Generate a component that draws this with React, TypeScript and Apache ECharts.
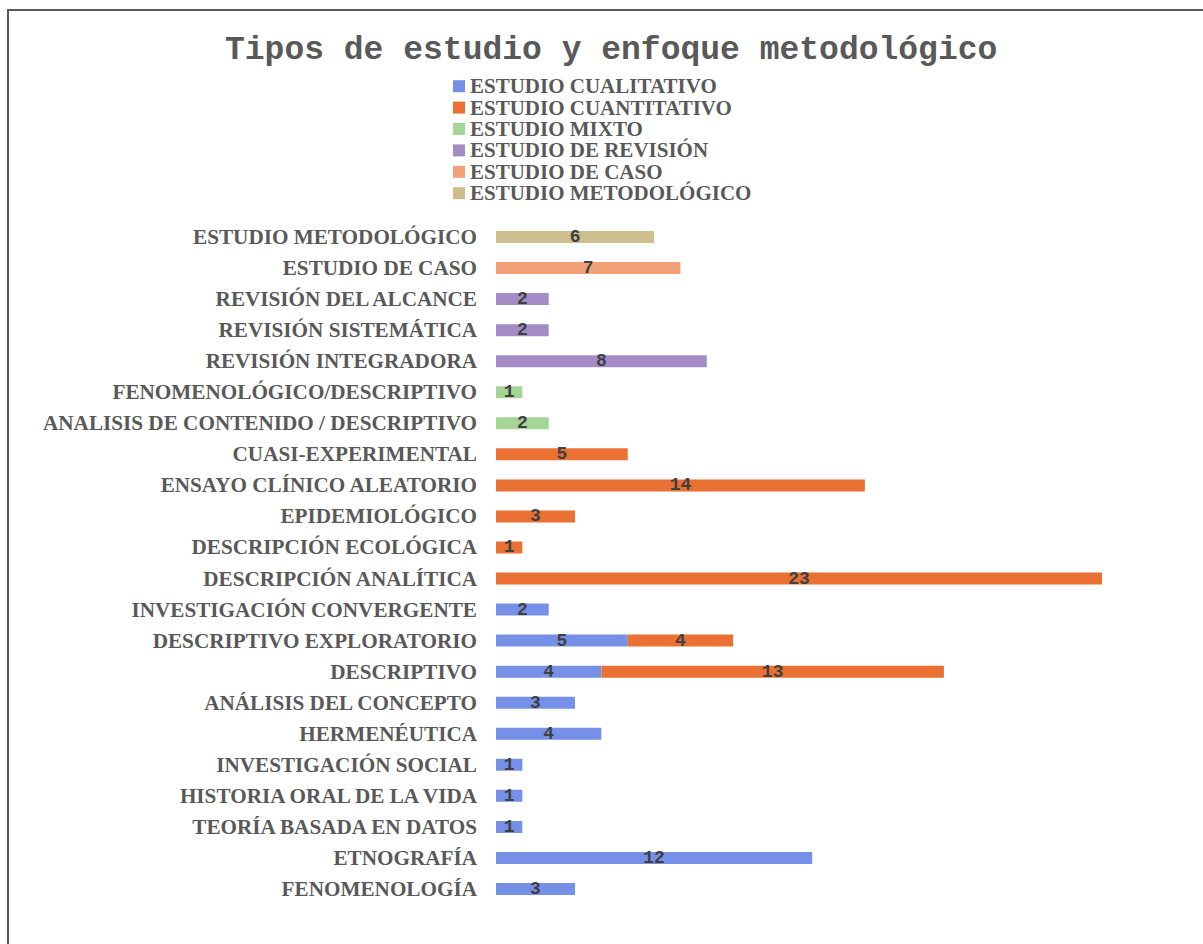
import React, { useEffect, useRef } from "react";
import * as echarts from "echarts";

const categories = [
  "FENOMENOLOGÍA",
  "ETNOGRAFÍA",
  "TEORÍA BASADA EN DATOS",
  "HISTORIA ORAL DE LA VIDA",
  "INVESTIGACIÓN SOCIAL",
  "HERMENÉUTICA",
  "ANÁLISIS DEL CONCEPTO",
  "DESCRIPTIVO",
  "DESCRIPTIVO EXPLORATORIO",
  "INVESTIGACIÓN CONVERGENTE",
  "DESCRIPCIÓN ANALÍTICA",
  "DESCRIPCIÓN ECOLÓGICA",
  "EPIDEMIOLÓGICO",
  "ENSAYO CLÍNICO ALEATORIO",
  "CUASI-EXPERIMENTAL",
  "ANALISIS DE CONTENIDO / DESCRIPTIVO",
  "FENOMENOLÓGICO/DESCRIPTIVO",
  "REVISIÓN INTEGRADORA",
  "REVISIÓN SISTEMÁTICA",
  "REVISIÓN DEL ALCANCE",
  "ESTUDIO DE CASO",
  "ESTUDIO METODOLÓGICO",
];

const N = null;
const cualitativo = [3, 12, 1, 1, 1, 4, 3, 4, 5, 2, N, N, N, N, N, N, N, N, N, N, N, N];
const cuantitativo = [N, N, N, N, N, N, N, 13, 4, N, 23, 1, 3, 14, 5, N, N, N, N, N, N, N];
const mixto = [N, N, N, N, N, N, N, N, N, N, N, N, N, N, N, 2, 1, N, N, N, N, N];
const revision = [N, N, N, N, N, N, N, N, N, N, N, N, N, N, N, N, N, 8, 2, 2, N, N];
const caso = [N, N, N, N, N, N, N, N, N, N, N, N, N, N, N, N, N, N, N, N, 7, N];
const metodologico = [N, N, N, N, N, N, N, N, N, N, N, N, N, N, N, N, N, N, N, N, N, 6];

const seriesNames = [
  "ESTUDIO CUALITATIVO",
  "ESTUDIO CUANTITATIVO",
  "ESTUDIO MIXTO",
  "ESTUDIO DE REVISIÓN",
  "ESTUDIO DE CASO",
  "ESTUDIO METODOLÓGICO",
];
const seriesData = [cualitativo, cuantitativo, mixto, revision, caso, metodologico];
const colors = ["#7590E6", "#EA7033", "#A5D597", "#A38CC6", "#F1A078", "#CDBE8E"];

export default function App() {
  const ref = useRef<HTMLDivElement>(null);
  useEffect(() => {
    document.body.style.margin = "0";
    const chart = echarts.init(ref.current!, null, { renderer: "svg" });
    chart.setOption({
      animation: false,
      backgroundColor: "#ffffff",
      title: {
        text: "Tipos de estudio y enfoque metodológico",
        left: 220,
        top: 29,
        textStyle: {
          fontFamily: "Liberation Mono",
          fontWeight: "bold",
          fontSize: 33,
          color: "#595959",
        },
      },
      legend: {
        orient: "vertical",
        left: 453,
        top: 75.5,
        padding: 0,
        itemGap: 0,
        itemWidth: 12,
        itemHeight: 12,
        icon: "rect",
        textStyle: {
          fontFamily: "Liberation Serif",
          fontWeight: "bold",
          fontSize: 21,
          lineHeight: 21.4,
          color: "#595959",
        },
        data: seriesNames,
      },
      grid: { left: 496, top: 221.5, width: 606, height: 683, containLabel: false },
      xAxis: { type: "value", min: 0, max: 23, show: false },
      yAxis: {
        type: "category",
        data: categories,
        axisLine: { show: false },
        axisTick: { show: false },
        axisLabel: {
          margin: 19,
          fontFamily: "Liberation Serif",
          fontWeight: "bold",
          fontSize: 21.2,
          color: "#595959",
        },
      },
      graphic: [
        {
          type: "rect",
          shape: { x: 8, y: 10, width: 1400, height: 1200 },
          style: { fill: "none", stroke: "#595959", lineWidth: 2 },
          silent: true,
        },
      ],
      series: seriesNames.map((name, i) => ({
        name,
        type: "bar",
        stack: "total",
        barWidth: 12,
        data: seriesData[i],
        itemStyle: { color: colors[i] },
        label: {
          show: true,
          position: "inside",
          fontFamily: "Liberation Mono",
          fontWeight: "bold",
          fontSize: 18,
          color: "#404040",
        },
      })),
    });
    return () => chart.dispose();
  }, []);
  return <div ref={ref} style={{ width: 1203, height: 944 }} />;
}
